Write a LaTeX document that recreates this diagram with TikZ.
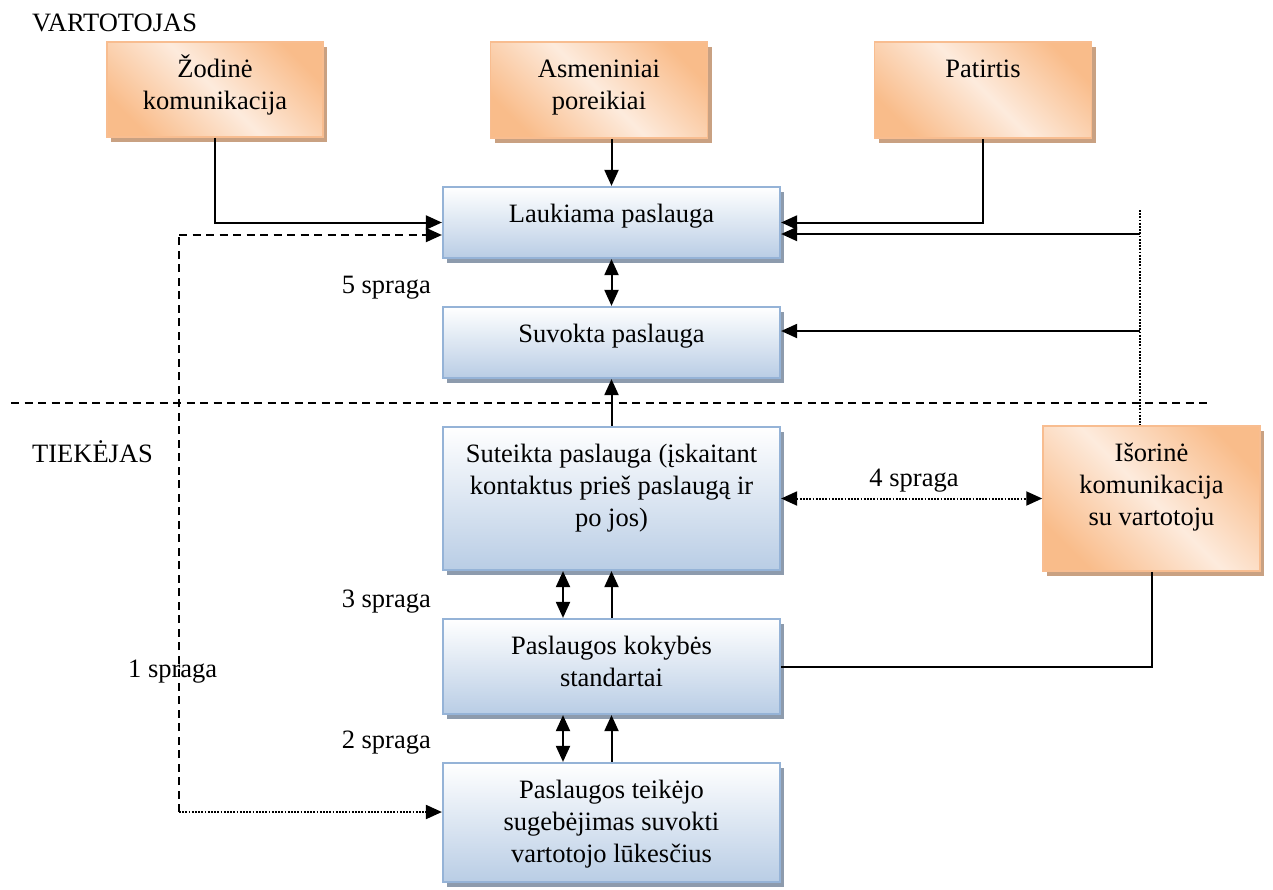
\documentclass[tikz,border=0pt]{standalone}
\usepackage{fontspec}
\setmainfont{Liberation Serif}
\usetikzlibrary{arrows.meta,shadows,calc}
\definecolor{oDark}{HTML}{F9BC8A}
\definecolor{oLight}{HTML}{FDEBDD}
\definecolor{oBorder}{HTML}{F8BD90}
\definecolor{oShadow}{HTML}{C9A182}
\definecolor{bBot}{HTML}{B9CDE5}
\definecolor{bBorder}{HTML}{95B3D7}
\definecolor{bShadow}{HTML}{8D9BAD}
\pgfdeclarehorizontalshading{orangediag}{100bp}{color(0bp)=(oDark); color(24bp)=(oDark); color(50bp)=(oLight); color(76bp)=(oDark); color(100bp)=(oDark)}
\newcommand{\bxt}[3]{\parbox[c][#2][t]{#1}{\centering\rule{0pt}{35pt}#3}}
\begin{document}
\begin{tikzpicture}[x=1pt,y=-1pt,
  every node/.style={font=\fontsize{26.5}{32}\selectfont, inner sep=0pt},
  obox/.style={draw=oBorder, line width=1.5pt, shading=orangediag, shading angle=45,
    drop shadow={shadow xshift=4pt, shadow yshift=-5pt, fill=oShadow, opacity=1}},
  bbox/.style={draw=bBorder, line width=2.2pt, top color=white, bottom color=bBot,
    drop shadow={shadow xshift=4pt, shadow yshift=-5pt, fill=bShadow, opacity=1}},
  conn/.style={line width=2pt, black},
  tip/.tip={Triangle[length=16pt,width=14pt]},
  arr/.style={conn, -tip},
  darr/.style={conn, tip-tip},
  dashln/.style={conn, dash pattern=on 8pt off 5.5pt},
  dotln/.style={conn, dash pattern=on 1.8pt off 1.4pt}
]
\useasboundingbox (0,0) rectangle (1273,889);

\node[obox] (zod) at (215,89.5) {\bxt{216pt}{95pt}{Žodinė\\komunikacija}};
\node[obox] (asm) at (599,90) {\bxt{217pt}{96pt}{Asmeniniai\\poreikiai}};
\node[obox] (pat) at (983,90) {\bxt{217pt}{96pt}{Patirtis}};
\node[bbox] (lauk) at (611.5,222.5) {\bxt{337pt}{71pt}{Laukiama paslauga}};
\node[bbox] (suv) at (611.5,342.5) {\bxt{337pt}{71pt}{Suvokta paslauga}};
\node[bbox] (sut) at (611.5,498.5) {\bxt{337pt}{143pt}{Suteikta paslauga (įskaitant\\kontaktus prieš paslaugą ir\\po jos)}};
\node[bbox] (kok) at (611.5,666.5) {\bxt{337pt}{95pt}{Paslaugos kokybės\\standartai}};
\node[bbox] (teik) at (611.5,822.5) {\bxt{337pt}{119pt}{Paslaugos teikėjo\\sugebėjimas suvokti\\vartotojo lūkesčius}};
\node[obox] (isor) at (1151.5,498.5) {\bxt{217pt}{145pt}{Išorinė\\komunikacija\\su vartotoju}};

\node[anchor=base west] (vart) at (32,31) {VARTOTOJAS};
\node[anchor=base west] (tiek) at (32,462) {TIEKĖJAS};
\node[anchor=base east] (s5) at (431,293) {5 spraga};
\node[anchor=base east] (s3) at (431,607) {3 spraga};
\node[anchor=base east] (s2) at (431,748) {2 spraga};
\node[anchor=base west] (s1) at (128,677) {1 spraga};
\node[anchor=base] (s4) at (914,486) {4 spraga};

\coordinate (h1) at (11,403);
\coordinate (h2) at (1210,403);
\draw[dashln] (h1) -- (h2);

\draw[arr] (zod.south) |- (lauk.west);
\draw[arr] (pat.south) |- (lauk.east);
\draw[arr] (lauk.north |- asm.south) -- (lauk.north);
\draw[darr] (lauk.south) -- (suv.north);
\draw[arr] (sut.north) -- (suv.south);

\coordinate (dt) at (1140,210);
\coordinate (d1) at (1140,234);
\coordinate (d2) at (1140,331);
\draw[dotln, line width=1.4pt] (dt) -- (dt |- isor.north);
\draw[arr] (d1) -- (d1 -| lauk.east);
\draw[arr] (d2) -- (d2 -| suv.east);

\draw[darr] ([xshift=-48.5pt]sut.south) -- ([xshift=-48.5pt]kok.north);
\draw[arr] (kok.north) -- (sut.south);
\draw[darr] ([xshift=-48.5pt]kok.south) -- ([xshift=-48.5pt]teik.north);
\draw[arr] (teik.north) -- (kok.south);

\draw[dotln, tip-tip] (sut.east) -- (isor.west);
\draw[conn] (isor.south) |- (kok.east);

\coordinate (c1) at (179,235);
\coordinate (c2) at (179,812);
\draw[dashln] (c2) -- (c1);
\draw[dashln, -tip] (c1) -- (c1 -| lauk.west);
\draw[dotln, -tip] (c2) -- (c2 -| teik.west);
\end{tikzpicture}
\end{document}
